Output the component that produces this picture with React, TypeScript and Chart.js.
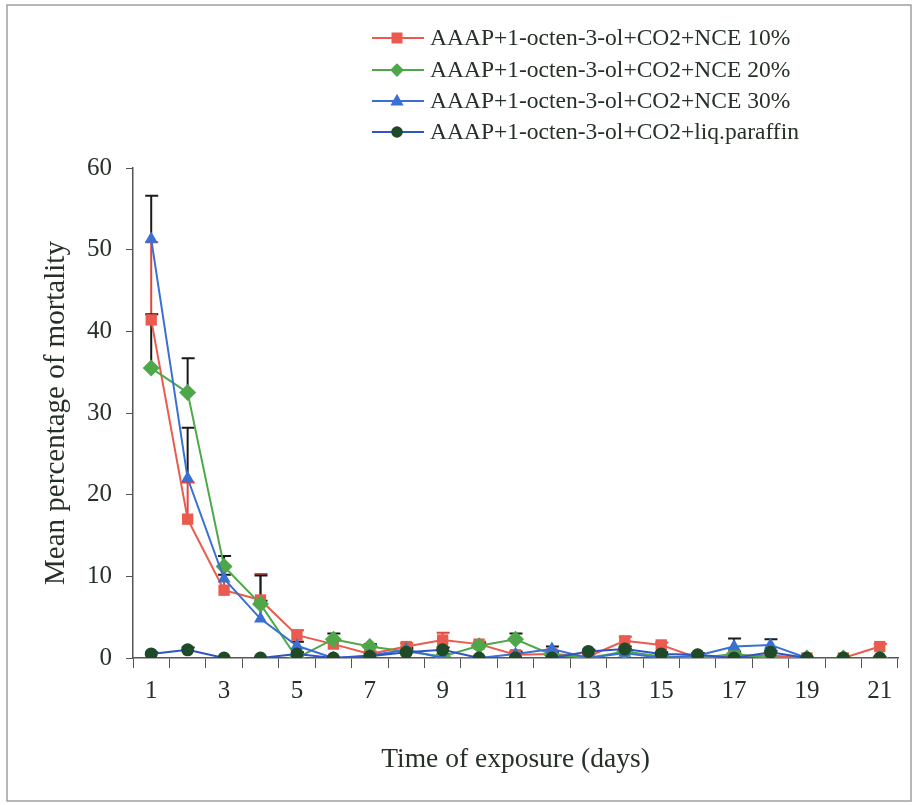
import React, { useEffect, useRef } from "react";
import { Chart, registerables } from "chart.js";

Chart.register(...registerables);

const days = ["1","2","3","4","5","6","7","8","9","10","11","12","13","14","15","16","17","18","19","20","21"];

const seriesNames = [
  "AAAP+1-octen-3-ol+CO2+NCE 10%",
  "AAAP+1-octen-3-ol+CO2+NCE 20%",
  "AAAP+1-octen-3-ol+CO2+NCE 30%",
  "AAAP+1-octen-3-ol+CO2+liq.paraffin",
];

const nce10 = [41.4, 17.0, 8.3, 7.1, 2.8, 1.7, 0.5, 1.4, 2.2, 1.7, 0.4, 0.5, 0.2, 2.1, 1.6, 0, 0.3, 0.3, 0, 0, 1.4];
const nce20 = [35.5, 32.5, 11.2, 6.6, 0, 2.3, 1.4, 0.8, 0.2, 1.5, 2.3, 0.4, 0, 0.8, 0.2, 0, 0.5, 0, 0, 0, 0];
const nce30 = [51.3, 22.0, 9.7, 4.8, 1.5, 0, 0.3, 1.0, 0, 0, 0.5, 1.1, 0, 0.6, 0, 0.3, 1.4, 1.6, 0, 0, 0];
const paraffin = [0.5, 1.0, 0, 0, 0.5, 0, 0.2, 0.7, 1.0, 0, 0, 0, 0.8, 1.1, 0.5, 0.4, 0, 0.7, 0, 0, 0];

const err10 = [9.5, 4.5, 2.9, 3.2, 0.6, 0.4, 0.3, 0.4, 0.9, 0.3, 0.3, 0.3, 0.2, 0.5, 0.3, 0, 0.3, 0.3, 0, 0, 0.3];
const err20 = [6.6, 4.2, 1.3, 3.5, 0, 0.7, 0.3, 0.3, 0.3, 0.3, 0.7, 0.3, 0, 0.3, 0.3, 0, 0.3, 0, 0, 0, 0];
const err30 = [5.3, 6.2, 0.5, 2.2, 0.5, 0, 0.3, 0.3, 0, 0, 0.3, 0.3, 0, 0.3, 0, 0.3, 1.0, 0.7, 0, 0, 0];
const errPar = [0.2, 0.3, 0, 0, 0.2, 0, 0.2, 0.2, 0.3, 0, 0, 0, 0.2, 0.3, 0.2, 0.2, 0, 0.2, 0, 0, 0];

const yTicks = [0, 10, 20, 30, 40, 50, 60];

const SERIF = "'Liberation Serif', 'Times New Roman', serif";
const TEXT = "#253028";
const AXIS = "#555555";

const errorBarPlugin = {
  id: "errorBars",
  beforeDatasetsDraw(chart: any) {
    const ctx = chart.ctx;
    const y = chart.scales.y;
    chart.data.datasets.forEach((ds: any, i: number) => {
      const meta = chart.getDatasetMeta(i);
      const errs: number[] = ds.errors || [];
      ctx.save();
      ctx.strokeStyle = ds.errorColor;
      ctx.lineWidth = 2;
      meta.data.forEach((pt: any, j: number) => {
        const e = errs[j];
        if (!e) return;
        const top = y.getPixelForValue(ds.data[j] + e);
        ctx.beginPath();
        ctx.moveTo(pt.x, pt.y);
        ctx.lineTo(pt.x, top);
        ctx.moveTo(pt.x - 6, top);
        ctx.lineTo(pt.x + 7, top);
        ctx.stroke();
      });
      ctx.restore();
    });
  },
};

const framePlugin = {
  id: "frame",
  beforeDraw(chart: any) {
    const ctx = chart.ctx;
    ctx.save();
    ctx.fillStyle = "#ffffff";
    ctx.fillRect(0, 0, chart.width, chart.height);
    ctx.strokeStyle = "#a0a0a0";
    ctx.lineWidth = 1.5;
    ctx.strokeRect(7, 5, 904, 796);
    ctx.restore();
  },
};

function drawMarker(ctx: CanvasRenderingContext2D, style: string, x: number, y: number, r: number) {
  ctx.beginPath();
  if (style === "rect") {
    ctx.rect(x - r, y - r, 2 * r, 2 * r);
  } else if (style === "rectRot") {
    ctx.moveTo(x, y - r * 1.25);
    ctx.lineTo(x + r * 1.25, y);
    ctx.lineTo(x, y + r * 1.25);
    ctx.lineTo(x - r * 1.25, y);
    ctx.closePath();
  } else if (style === "triangle") {
    ctx.moveTo(x, y - r * 1.3);
    ctx.lineTo(x + r * 1.2, y + r * 0.8);
    ctx.lineTo(x - r * 1.2, y + r * 0.8);
    ctx.closePath();
  } else {
    ctx.arc(x, y, r * 1.05, 0, Math.PI * 2);
  }
  ctx.fill();
}

const legendPlugin = {
  id: "customLegend",
  afterDraw(chart: any) {
    const ctx = chart.ctx;
    const rowsY = [38, 70, 101, 132];
    ctx.save();
    chart.data.datasets.forEach((ds: any, i: number) => {
      const yy = rowsY[i];
      ctx.strokeStyle = ds.borderColor;
      ctx.lineWidth = 2;
      ctx.beginPath();
      ctx.moveTo(372, yy);
      ctx.lineTo(424, yy);
      ctx.stroke();
      ctx.fillStyle = ds.pointBackgroundColor;
      drawMarker(ctx, ds.pointStyle, 397, yy, 5.5);
      ctx.fillStyle = TEXT;
      ctx.font = `23.5px ${SERIF}`;
      ctx.textBaseline = "middle";
      ctx.textAlign = "left";
      ctx.fillText(ds.label, 430, yy + 1);
    });
    ctx.restore();
  },
};

export default function App() {
  const ref = useRef<HTMLCanvasElement | null>(null);
  useEffect(() => {
    if (!ref.current) return;
    const mk = (label: string, data: number[], errors: number[], color: string, pointColor: string, style: string, radius: number, order: number, errorColor: string) => ({
      label,
      data,
      errors,
      errorColor,
      borderColor: color,
      backgroundColor: pointColor,
      pointBackgroundColor: pointColor,
      pointBorderColor: pointColor,
      pointBorderWidth: 0,
      pointStyle: style,
      pointRadius: radius,
      borderWidth: 2,
      tension: 0,
      order,
    });
    const chart = new Chart(ref.current, {
      type: "line",
      data: {
        labels: days,
        datasets: [
          mk(seriesNames[0], nce10, err10, "#ea5a4e", "#ea5a4e", "rect", 8, 3, "#e0463c"),
          mk(seriesNames[1], nce20, err20, "#4ea84a", "#4ea84a", "rectRot", 8.5, 2, "#1a1a1a"),
          mk(seriesNames[2], nce30, err30, "#3a6fd4", "#3a6fd4", "triangle", 7.5, 1, "#1a1a1a"),
          mk(seriesNames[3], paraffin, errPar, "#2f55c4", "#1e4a28", "circle", 6.5, 0, "#1a1a1a"),
        ] as any,
      },
      options: {
        responsive: false,
        animation: false,
        devicePixelRatio: 1,
        layout: { padding: { top: 168, right: 16, left: 0, bottom: 0 } },
        plugins: { legend: { display: false }, tooltip: { enabled: false }, title: { display: false } },
        scales: {
          x: {
            type: "category",
            offset: true,
            grid: { offset: true, drawOnChartArea: false, drawTicks: true, tickLength: 10, color: AXIS, lineWidth: 1 },
            border: { display: true, color: AXIS, width: 1.5 },
            ticks: {
              autoSkip: false,
              maxRotation: 0,
              minRotation: 0,
              padding: 8,
              color: TEXT,
              font: { family: SERIF, size: 25 },
              callback: (_v: any, i: number) => (i % 2 === 0 ? days[i] : ""),
            },
            title: { display: true, text: "Time of exposure (days)", color: TEXT, font: { family: SERIF, size: 27.5 }, padding: { top: 0, bottom: 29 } },
            afterFit: (s: any) => { s.height = 147; },
          },
          y: {
            min: 0,
            max: 60,
            afterBuildTicks: (s: any) => { s.ticks = yTicks.map((v) => ({ value: v })); },
            grid: { drawOnChartArea: false, drawTicks: true, tickLength: 7, color: AXIS, lineWidth: 1 },
            border: { display: true, color: AXIS, width: 1.5 },
            ticks: { padding: 14, color: TEXT, font: { family: SERIF, size: 25 } },
            title: { display: true, text: "Mean percentage of mortality", color: TEXT, font: { family: SERIF, size: 29 }, padding: { top: 39, bottom: 0 } },
            afterFit: (s: any) => { s.width = 133; },
          },
        },
      },
      plugins: [framePlugin, errorBarPlugin, legendPlugin],
    } as any);
    return () => chart.destroy();
  }, []);
  return (
    <div style={{ position: "absolute", left: 0, top: 0, width: 914, height: 805, background: "#fff" }}>
      <canvas ref={ref} width={914} height={805} style={{ display: "block", width: 914, height: 805 }} />
    </div>
  );
}
